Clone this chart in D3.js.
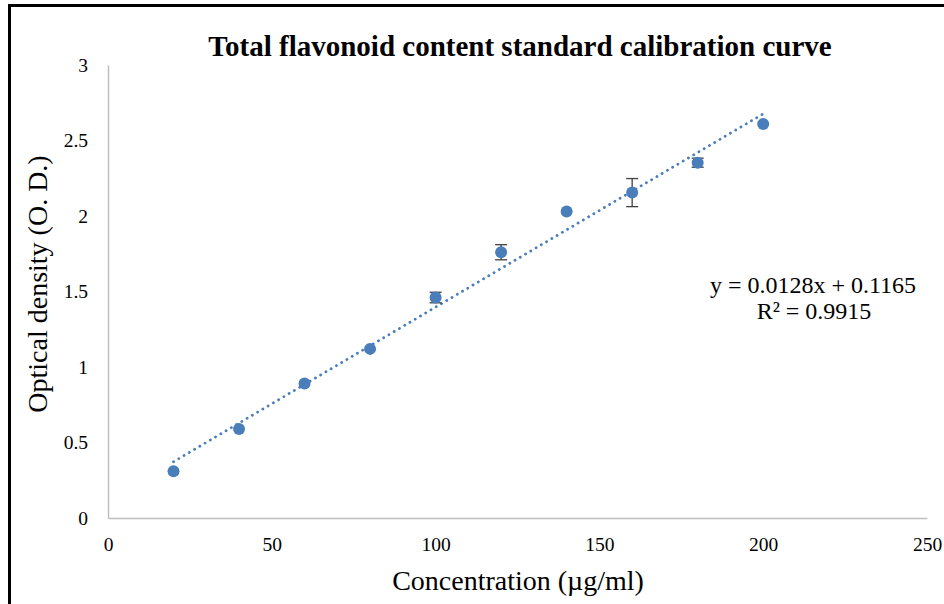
<!DOCTYPE html>
<html lang="en">
<head>
<meta charset="UTF-8" />
<title>Total flavonoid content standard calibration curve</title>
<style>
  html, body { margin: 0; padding: 0; background: #fff; }
  svg text { font-family: "Liberation Serif", "Times New Roman", serif; fill: #000; }
</style>
</head>
<body>
<div id="chart"></div>
<script src="https://cdn.jsdelivr.net/npm/d3@7"></script>
<script>
// concentration (µg/ml)
const concentrations = [20, 40, 60, 80, 100, 120, 140, 160, 180, 200];
// mean optical density
const odValues = [0.31, 0.59, 0.89, 1.12, 1.46, 1.76, 2.03, 2.155, 2.353, 2.61];
// error bar half-heights
const odErrors = [0, 0, 0, 0, 0.035, 0.05, 0, 0.093, 0.03, 0];
const xTicks = [0, 50, 100, 150, 200, 250];
const yTicks = [0, 0.5, 1, 1.5, 2, 2.5, 3];
const slope = 0.0128;
const intercept = 0.1165;
const rSquared = 0.9915;

const width = 944;
const height = 604;
const margin = { top: 65, right: 17, bottom: 86, left: 108 };

const svg = d3.select("#chart")
  .append("svg")
  .attr("width", width)
  .attr("height", height);

// outer frame (only left and top edges fall inside the picture)
svg.append("path")
  .attr("d", `M9.5,${height} V5.5 H${width}`)
  .attr("fill", "none")
  .attr("stroke", "#000")
  .attr("stroke-width", 3);

const x = d3.scaleLinear().domain([0, 250]).range([margin.left, width - margin.right]);
const y = d3.scaleLinear().domain([0, 3]).range([height - margin.bottom, margin.top]);

// axes
const xAxis = svg.append("g")
  .attr("transform", `translate(0,${y(0)})`)
  .call(d3.axisBottom(x).tickValues(xTicks).tickSize(0).tickPadding(19).tickFormat(d3.format("d")));
const yAxis = svg.append("g")
  .attr("transform", `translate(${x(0)},0)`)
  .call(d3.axisLeft(y).tickValues(yTicks).tickSize(0).tickPadding(20).tickFormat(d => d));

[xAxis, yAxis].forEach(a => {
  a.select(".domain").attr("stroke", "#bfbfbf").attr("stroke-width", 1.5);
  a.selectAll("text").style("font-size", "19.5px").attr("fill", "#222");
});

// trendline
svg.append("line")
  .attr("x1", x(20)).attr("y1", y(slope * 20 + intercept))
  .attr("x2", x(200)).attr("y2", y(slope * 200 + intercept))
  .attr("stroke", "#4a7ebb")
  .attr("stroke-width", 2.8)
  .attr("stroke-linecap", "round")
  .attr("stroke-dasharray", "0.1 6");

const points = concentrations.map((c, i) => ({ c, v: odValues[i], e: odErrors[i] }));

// error bars
const err = svg.append("g").attr("stroke", "#404040").attr("stroke-width", 1.3);
points.filter(d => d.e > 0).forEach(d => {
  err.append("line").attr("x1", x(d.c)).attr("x2", x(d.c)).attr("y1", y(d.v - d.e)).attr("y2", y(d.v + d.e));
  err.append("line").attr("x1", x(d.c) - 6).attr("x2", x(d.c) + 6).attr("y1", y(d.v - d.e)).attr("y2", y(d.v - d.e));
  err.append("line").attr("x1", x(d.c) - 6).attr("x2", x(d.c) + 6).attr("y1", y(d.v + d.e)).attr("y2", y(d.v + d.e));
});

// markers
svg.append("g").selectAll("circle")
  .data(points)
  .join("circle")
  .attr("cx", d => x(d.c))
  .attr("cy", d => y(d.v))
  .attr("r", 6)
  .attr("fill", "#4a7ebb");

// title
svg.append("text")
  .attr("x", 520)
  .attr("y", 56)
  .attr("text-anchor", "middle")
  .style("font-size", "29px")
  .style("font-weight", "bold")
  .text("Total flavonoid content standard calibration curve");

// axis titles
svg.append("text")
  .attr("x", 518)
  .attr("y", 590)
  .attr("text-anchor", "middle")
  .style("font-size", "28px")
  .text("Concentration (µg/ml)");

svg.append("text")
  .attr("transform", `translate(47,284) rotate(-90)`)
  .attr("text-anchor", "middle")
  .style("font-size", "28px")
  .text("Optical density (O. D.)");

// regression equation
svg.append("text")
  .attr("x", 813)
  .attr("y", 293)
  .attr("text-anchor", "middle")
  .style("font-size", "24px")
  .text(`y = ${slope}x + ${intercept}`);
svg.append("text")
  .attr("x", 814)
  .attr("y", 319)
  .attr("text-anchor", "middle")
  .style("font-size", "24px")
  .text(`R² = ${rSquared}`);
</script>
</body>
</html>
